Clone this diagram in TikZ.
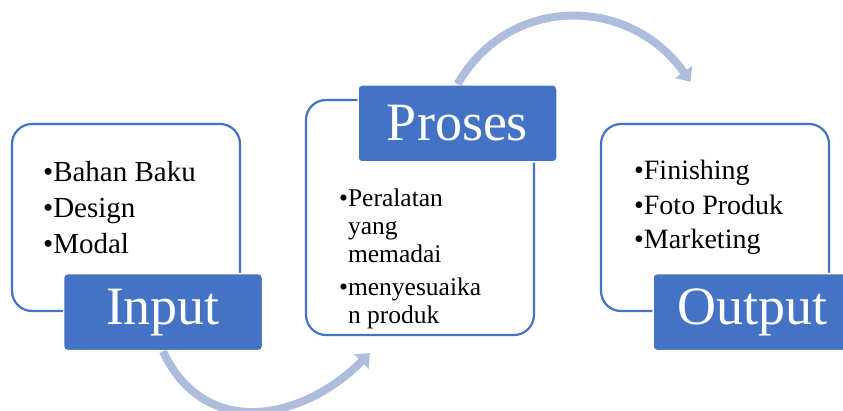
\documentclass[tikz,border=0pt]{standalone}
\usepackage{fontspec}
\setmainfont{Liberation Serif}
\usepackage{tikz}
\usetikzlibrary{positioning}
\usetikzlibrary{arrows.meta}
\usepackage{xcolor}
\definecolor{accent}{HTML}{4472C4}
\definecolor{arcblue}{HTML}{AEBCDD}
\newcommand{\bul}{\textbullet}
\newcommand{\ind}{\phantom{\textbullet}}

\begin{document}
\begin{tikzpicture}[x=1pt, y=1pt,
    card/.style={draw=accent, line width=2.2pt, fill=white, rounded corners=20pt,
                 minimum width=228pt, minimum height=187pt, inner sep=0pt},
    tag/.style={draw=white, line width=1.5pt, fill=accent, rounded corners=4pt,
                minimum width=199pt, minimum height=77pt, inner sep=0pt,
                text=white, font=\fontsize{54}{60}\selectfont},
    items/.style={anchor=north west, align=left, inner sep=0pt},
    flow/.style={draw=arcblue, line width=8pt, -{Triangle[width=20pt, length=12pt]}}]
			    		\useasboundingbox (0,0) rectangle (843,410);
			    		% boxes
			    		\node[card] (inbox) at (126,192.5) {};
			    		\node[card, minimum height=235pt, right=63.8pt of inbox] (prbox) {};
			    		\node[card, right=64.8pt of prbox] (outbox) {};
			    		% lists
			    		\node[items, font=\fontsize{29}{36}\selectfont] (inlist) at ([shift={(32,-38)}]inbox.north west)
			    			{\bul Bahan Baku\\ \bul Design\\ \bul Modal};
			    		\node[items, font=\fontsize{25.5}{28}\selectfont] (prlist) at ([shift={(34,-90)}]prbox.north west)
			    			{\bul Peralatan\\ \ind yang\\ \ind memadai\\[5pt] \bul menyesuaika\\ \ind n produk};
			    		\node[items, font=\fontsize{28}{34.5}\selectfont] (outlist) at ([shift={(34,-37)}]outbox.north west)
			    			{\bul Finishing\\ \bul Foto Produk\\ \bul Marketing};
			    		% labels
			    		\node[tag] (inlabel) at ([xshift=37pt]inbox.south) {Input};
			    		\node[tag] (prlabel) at ([shift={(37.5,-24.5)}]prbox.north) {Proses};
			    		\node[tag] (outlabel) at ([xshift=37.5pt]outbox.south) {Output};
			    		% arrows
			    		\coordinate[below right=17pt and 65pt of prbox.south west] (tipA);
			    		\coordinate[above left=41pt and 24.5pt of outbox.north] (tipB);
			    		\draw[flow] (inlabel.south) to[out=-65, in=-135, looseness=1.2] (tipA);
			    		\draw[flow] (prlabel.north) to[out=60, in=125, looseness=1.15] (tipB);
			    	\end{tikzpicture}
\end{document}
